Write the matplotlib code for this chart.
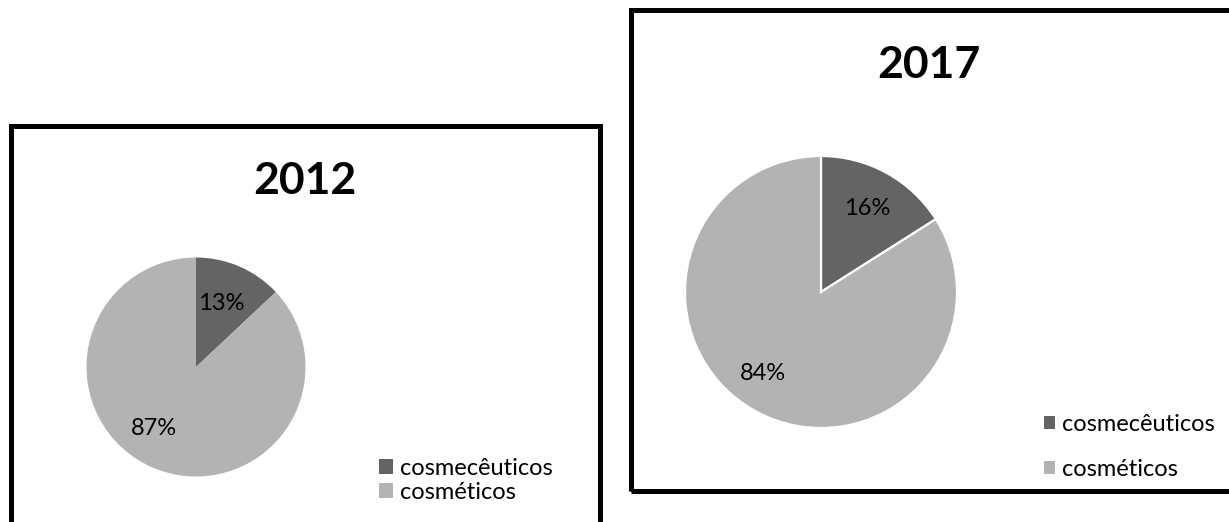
import matplotlib
matplotlib.use("Agg")
import matplotlib.pyplot as plt
from matplotlib.patches import Rectangle, Patch

plt.rcParams['font.family'] = ['Lato', 'DejaVu Sans']

# ── Data ──────────────────────────────────────────────────────────────────────
CATEGORIES = ["cosmecêuticos", "cosméticos"]
SHARE_2012 = [13, 87]
SHARE_2017 = [16, 84]
COLORS     = ["#646464", "#b3b3b3"]

W, H = 1229, 522
fig = plt.figure(figsize=(W / 100, H / 100), dpi=100)


def fx(px):  return px / W
def fy(py):  return 1 - py / H


def pie_panel(cx, cy, r, values, label_pos, edge):
    ax = fig.add_axes([fx(cx - r), fy(cy + r), 2 * r / W, 2 * r / H])
    wp = dict(edgecolor="white", linewidth=1.6) if edge else dict(linewidth=0)
    _, _, autotexts = ax.pie(values, colors=COLORS, startangle=90, counterclock=False,
                             autopct="%d%%", wedgeprops=wp,
                             textprops=dict(fontsize=17, color="black"))
    for t, (x, y) in zip(autotexts, label_pos):
        t.set_position((x, y))
        t.set_verticalalignment("baseline")
    ax.set_xlim(-1, 1); ax.set_ylim(-1, 1)
    ax.set_aspect("auto")
    ax.axis("off")
    return ax


def legend_at(x, y, square, spacing):
    handles = [Patch(facecolor=c, edgecolor="none") for c in COLORS]
    fs = 17 * 100 / 72
    fig.legend(handles, CATEGORIES, loc="center left",
               bbox_to_anchor=(fx(x), fy(y)), frameon=False, fontsize=17,
               borderpad=0, borderaxespad=0, handlelength=square / fs,
               handleheight=square / fs, handletextpad=0.3,
               labelspacing=spacing)


# ── Panel borders ─────────────────────────────────────────────────────────────
fig.add_artist(Rectangle((fx(10.5), fy(540)), fx(600.5) - fx(10.5), fy(126.5) - fy(540),
                         transform=fig.transFigure, fill=False, lw=3.6, ec="black"))
fig.add_artist(Rectangle((fx(631), fy(490.5)), fx(1230.5) - fx(631), fy(10) - fy(490.5),
                         transform=fig.transFigure, fill=False, lw=3.6, ec="black",
                         clip_on=False))

# ── 2012 ──────────────────────────────────────────────────────────────────────
fig.text(fx(305), fy(193.5), "2012", fontsize=32, fontweight="bold",
         ha="center", va="baseline")
pie_panel(196, 367, 109.5, SHARE_2012,
          [(0.228, 0.52), (-0.384, -0.621)], edge=False)
legend_at(379, 480.5, 14, 0.13)

# ── 2017 ──────────────────────────────────────────────────────────────────────
fig.text(fx(929), fy(77.5), "2017", fontsize=32, fontweight="bold",
         ha="center", va="baseline")
pie_panel(821, 292, 136, SHARE_2017,
          [(0.338, 0.566), (-0.426, -0.647)], edge=True)
legend_at(1044, 447, 11, 1.0)

plt.savefig("out.png", dpi=100)
